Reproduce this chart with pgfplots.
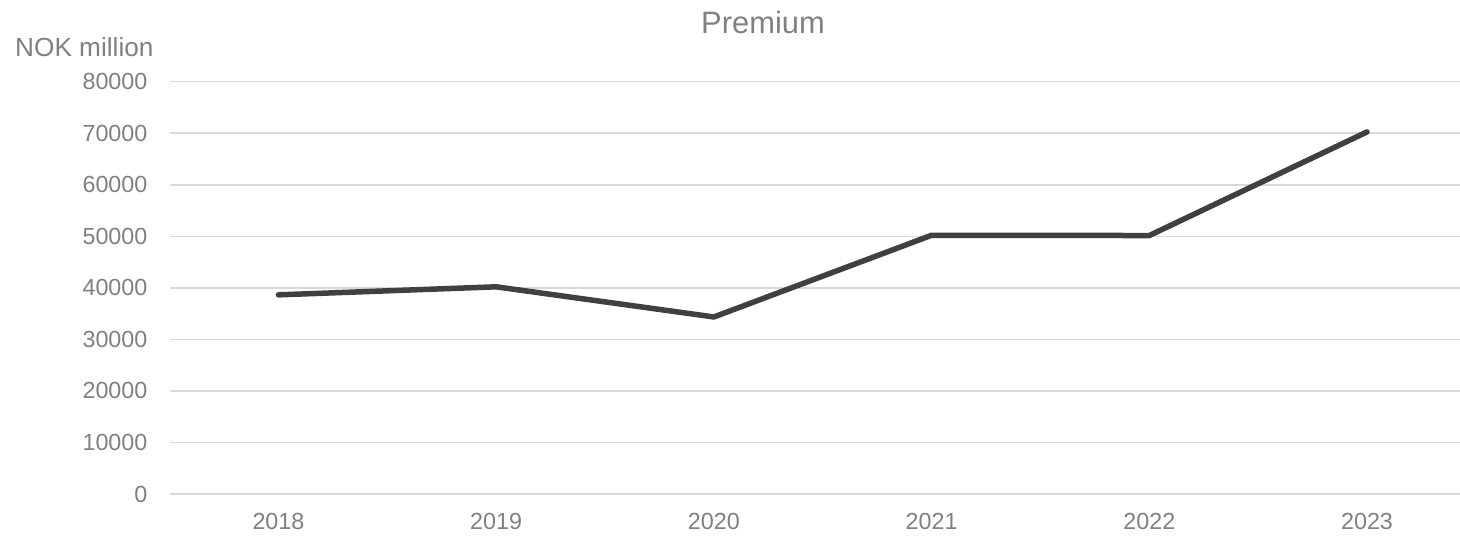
\documentclass[border=0pt]{standalone}
\usepackage{pgfplots}
\pgfplotsset{compat=1.18}
\usepackage{fontspec}
\setmainfont{Liberation Sans}
\definecolor{textgray}{RGB}{128,128,128}
\definecolor{gridgray}{RGB}{217,217,217}
\definecolor{linegray}{RGB}{64,64,64}
\begin{document}
\begin{tikzpicture}[x=1bp,y=1bp]
\useasboundingbox (0,0) rectangle (1460,540);
\begin{axis}[
  at={(169.6bp,46bp)}, anchor=south west,
  scale only axis, width=1306.3bp, height=412.3bp,
  xmin=-0.5, xmax=5.5, ymin=0, ymax=80000,
  xtick={0,1,2,3,4,5},
  xticklabels={2018,2019,2020,2021,2022,2023},
  ytick={0,10000,20000,30000,40000,50000,60000,70000,80000},
  scaled y ticks=false,
  yticklabel={\pgfmathprintnumber[fixed,precision=0,1000 sep={},assume math mode=true]{\tick}},
  axis line style={draw=none},
  major tick length=0pt,
  ymajorgrids,
  grid style={draw=gridgray, line width=1.5bp},
  clip=false,
  /pgf/number format/assume math mode=true,
  /pgf/number format/1000 sep={},
  ticklabel style={font=\fontsize{23.4}{28}\selectfont, text=textgray, inner sep=0pt},
  yticklabel style={anchor=east, xshift=-22bp},
  xticklabel style={anchor=north, yshift=-19bp},
]
\addplot[linegray, line width=5.5bp, line cap=round, line join=round] coordinates {
  (0,38640) (1,40200) (2,34350) (3,50200) (4,50150) (5,70250)
};
\end{axis}
\node[anchor=base west, inner sep=0pt, text=textgray, font=\fontsize{26.3}{31}\selectfont] at (15,483) {NOK million};
\node[anchor=base, inner sep=0pt, text=textgray, font=\fontsize{31}{37}\selectfont] at (763,506.7) {Premium};
\end{tikzpicture}
\end{document}
